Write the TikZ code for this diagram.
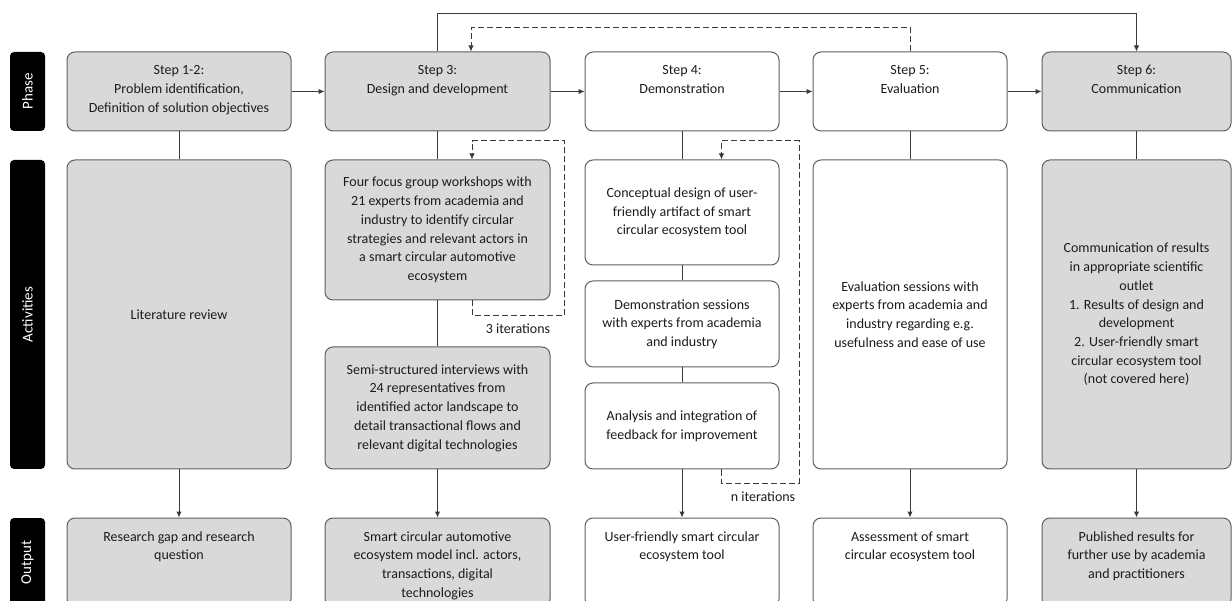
\documentclass[tikz,border=0pt]{standalone}
\usepackage{fontspec}
\setmainfont{Carlito}
\usetikzlibrary{arrows.meta}
\definecolor{boxfill}{HTML}{D9D9D9}
\definecolor{boxline}{HTML}{5F5F5F}
\definecolor{txtcol}{HTML}{1C1C1C}
\definecolor{conncol}{HTML}{3A3A3A}
\newcommand\toptxt[3]{\parbox[c][#2][t]{#1}{\centering\rule{0pt}{23pt}#3}}
\begin{document}
\begin{tikzpicture}[x=1pt,y=-1pt,
 every node/.style={font=\fontsize{14}{18.7}\selectfont, text=txtcol},
 box/.style={draw=boxline, line width=1pt, rounded corners=8pt, inner sep=0pt, align=center},
 gbox/.style={box, fill=boxfill},
 wbox/.style={box, fill=white},
 lab/.style={fill=black, rounded corners=4pt, inner sep=0pt, minimum height=35pt, text=white, rotate=90, font=\fontsize{15}{18}\selectfont},
 conn/.style={draw=conncol, line width=1pt},
 arr/.style={conn, -{Latex[length=6pt,width=5.5pt]}},
 dashline/.style={conn, dash pattern=on 6pt off 3pt},
 dasharr/.style={dashline, -{Latex[length=6pt,width=5.5pt]}},
 plain/.style={inner sep=0pt}
]
\clip (0,0) rectangle (1232,601);
% side labels
\node[lab, minimum width=79pt] (lphase) at (27.5,91.5) {Phase};
\node[lab, minimum width=309pt] (lact) at (27.5,314.5) {Activities};
\node[lab, minimum width=89pt] (lout) at (27.5,562.5) {Output};
% phase row
\node[gbox, minimum width=224pt, minimum height=79pt] (p1) at (179,91.5) {\toptxt{224pt}{79pt}{Step 1-2:\\Problem identification,\\Definition of solution objectives}};
\node[gbox, minimum width=225pt, minimum height=79pt] (p2) at (437.5,91.5) {\toptxt{225pt}{79pt}{Step 3:\\Design and development}};
\node[wbox, minimum width=194pt, minimum height=79pt] (p3) at (682,91.5) {\toptxt{194pt}{79pt}{Step 4:\\Demonstration}};
\node[wbox, minimum width=194pt, minimum height=79pt] (p4) at (910,91.5) {\toptxt{194pt}{79pt}{Step 5:\\Evaluation}};
\node[gbox, minimum width=189pt, minimum height=79pt] (p5) at (1136.5,91.5) {\toptxt{189pt}{79pt}{Step 6:\\Communication}};
% activities row
\node[gbox, minimum width=224pt, minimum height=309pt] (a1) at (179,314.5) {Literature review};
\node[gbox, minimum width=225pt, minimum height=140pt] (a2a) at (437.5,230) {Four focus group workshops with\\21 experts from academia and\\industry to identify circular\\strategies and relevant actors in\\a smart circular automotive\\ecosystem};
\node[gbox, minimum width=225pt, minimum height=122pt] (a2b) at (437.5,408) {Semi-structured interviews with\\24 representatives from\\identified actor landscape to\\detail transactional flows and\\relevant digital technologies};
\node[wbox, minimum width=194pt, minimum height=105pt] (a3a) at (682,212.5) {Conceptual design of user-\\friendly artifact of smart\\circular ecosystem tool};
\node[wbox, minimum width=194pt, minimum height=86pt] (a3b) at (682,324) {Demonstration sessions\\with experts from academia\\and industry};
\node[wbox, minimum width=194pt, minimum height=86pt] (a3c) at (682,426) {Analysis and integration of\\feedback for improvement};
\node[wbox, minimum width=194pt, minimum height=309pt] (a4) at (910,314.5) {Evaluation sessions with\\experts from academia and\\industry regarding e.g.\\usefulness and ease of use};
\node[gbox, minimum width=189pt, minimum height=309pt] (a5) at (1136.5,314.5) {Communication of results\\in appropriate scientific\\outlet\\1. Results of design and\\development\\2. User-friendly smart\\circular ecosystem tool\\(not covered here)};
% output row
\node[gbox, minimum width=224pt, minimum height=89pt] (o1) at (179,562.5) {\toptxt{224pt}{89pt}{Research gap and research\\question}};
\node[gbox, minimum width=225pt, minimum height=89pt] (o2) at (437.5,562.5) {\toptxt{225pt}{89pt}{Smart circular automotive\\ecosystem model incl. actors,\\transactions, digital\\technologies}};
\node[wbox, minimum width=194pt, minimum height=89pt] (o3) at (682,562.5) {\toptxt{194pt}{89pt}{User-friendly smart circular\\ecosystem tool}};
\node[wbox, minimum width=194pt, minimum height=89pt] (o4) at (910,562.5) {\toptxt{194pt}{89pt}{Assessment of smart\\circular ecosystem tool}};
\node[gbox, minimum width=189pt, minimum height=89pt] (o5) at (1136.5,562.5) {\toptxt{189pt}{89pt}{Published results for\\further use by academia\\and practitioners}};
% iteration labels
\node[plain] (it3) at (518,329) {3 iterations};
\node[plain] (itn) at (763,497) {n iterations};
% phase arrows
\draw[arr] (p1) -- (p2);
\draw[arr] (p2) -- (p3);
\draw[arr] (p3) -- (p4);
\draw[arr] (p4) -- (p5);
% top connectors
\coordinate (top) at (437.5,14);
\draw[arr] (p2.north) -- (top) -| (p5.north);
\coordinate (dtop) at (471,28);
\draw[dasharr] (p4.north) |- (dtop) -- (dtop |- p2.north);
% vertical links
\draw[conn] (p1) -- (a1);
\draw[arr] (a1) -- (o1);
\draw[conn] (p2) -- (a2a);
\draw[conn] (a2a) -- (a2b);
\draw[arr] (a2b) -- (o2);
\draw[conn] (p3) -- (a3a);
\draw[conn] (a3a) -- (a3b);
\draw[conn] (a3b) -- (a3c);
\draw[arr] (a3c) -- (o3);
\draw[conn] (p4) -- (a4);
\draw[arr] (a4) -- (o4);
\draw[conn] (p5) -- (a5);
\draw[arr] (a5) -- (o5);
% iteration loops
\coordinate (l2a) at (472,316);
\coordinate (l2b) at (564,141);
\draw[dasharr] (a2a.south -| l2a) -- (l2a) -| (l2b) -| (a2a.north -| l2a);
\coordinate (l3a) at (721.5,483);
\coordinate (l3b) at (799,141);
\draw[dasharr] (a3c.south -| l3a) -- (l3a) -| (l3b) -| (a3a.north -| l3a);
\end{tikzpicture}
\end{document}
